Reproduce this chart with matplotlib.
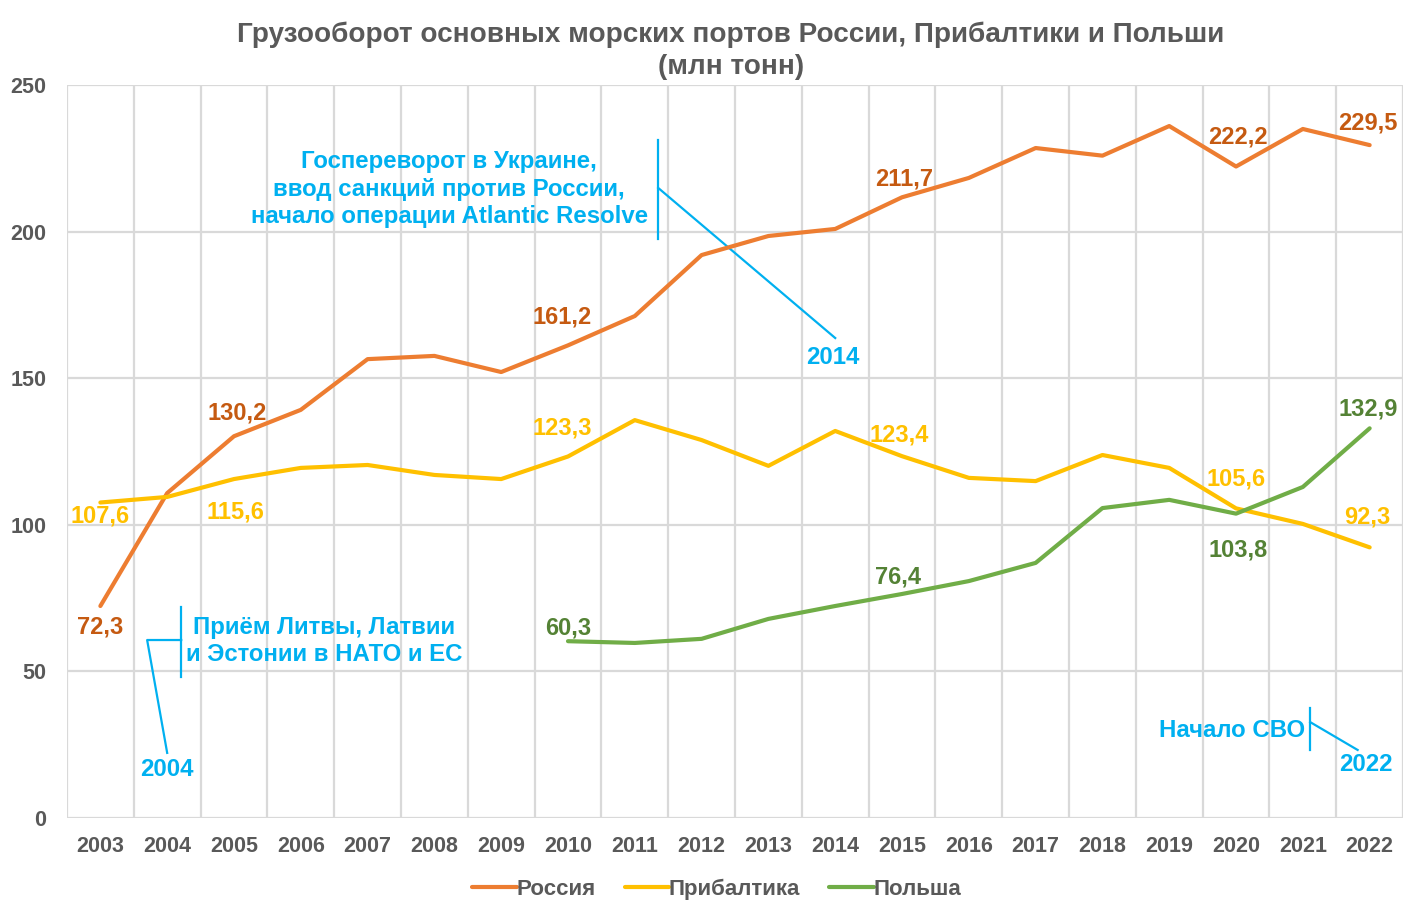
import matplotlib
matplotlib.use("Agg")
import matplotlib.pyplot as plt

plt.rcParams['font.family'] = ['Liberation Sans', 'DejaVu Sans']
plt.rcParams['font.weight'] = 'bold'

years = [str(y) for y in range(2003, 2023)]

russia = [72.3, 110.8, 130.2, 139.2, 156.5, 157.6, 152.1, 161.2, 171.2, 192.0,
          198.5, 200.9, 211.7, 218.3, 228.5, 225.9, 236.0, 222.2, 235.0, 229.5]
baltic = [107.6, 109.5, 115.6, 119.4, 120.4, 117.0, 115.6, 123.3, 135.7, 128.9,
          120.1, 132.0, 123.4, 116.0, 114.9, 123.8, 119.4, 105.6, 100.3, 92.3]
poland_years = years[7:]
poland = [60.3, 59.7, 61.1, 67.9, 72.3, 76.4, 80.8, 87.0, 105.7, 108.5,
          103.8, 112.9, 132.9]

GREY = '#595959'
BLUE = '#00B0F0'

fig = plt.figure(figsize=(14.25, 9.11), dpi=100)
ax = fig.add_axes([0.047, 0.1021, 0.9376, 0.8046])

x_all = list(range(len(years)))
x_pl = [years.index(y) for y in poland_years]

ax.plot(x_all, russia, color='#ED7D31', lw=3, label='Россия', solid_capstyle='round', zorder=3)
ax.plot(x_all, baltic, color='#FFC000', lw=3, label='Прибалтика', solid_capstyle='round', zorder=3)
ax.plot(x_pl, poland, color='#70AD47', lw=3, label='Польша', solid_capstyle='round', zorder=3)

ax.set_xlim(-0.5, len(years) - 0.5)
ax.set_ylim(0, 250)
ax.set_yticks(range(0, 251, 50))
ax.set_xticks(x_all)
ax.set_xticklabels(years)

# grid between categories like Excel
for i in range(len(years) + 1):
    ax.axvline(i - 0.5, color='#D9D9D9', lw=1.6, zorder=1)
for v in range(50, 251, 50):
    ax.axhline(v, color='#D9D9D9', lw=1.6, zorder=1)
for s in ax.spines.values():
    s.set_visible(False)
ax.axhline(0, color='#D9D9D9', lw=1.6, zorder=1)
ax.tick_params(length=0, labelsize=15.5, labelcolor=GREY)
ax.tick_params(axis='x', pad=13)
ax.tick_params(axis='y', pad=15)

# data labels: (series, year, offset in px)
x_of = {y: i for i, y in enumerate(years)}

def label(xs, ys, yr, dx, dy, color):
    i = xs.index(yr)
    ax.annotate(f"{ys[i]:.1f}".replace('.', ','), (x_of[yr], ys[i]),
                xytext=(dx, dy), textcoords='offset pixels', ha='center', va='center',
                fontsize=17, color=color, fontweight='bold', zorder=4)

ru_col = '#C55A11'
for yr, dx, dy in [('2003', 0, -21), ('2005', 3, 23), ('2010', -6, 28),
                   ('2015', 2, 18), ('2020', 2, 30), ('2022', -2, 22)]:
    label(years, russia, yr, dx, dy, ru_col)
for yr, dx, dy in [('2003', 0, -13), ('2005', 1, -33), ('2010', -6, 28),
                   ('2015', -3, 21), ('2020', 0, 29), ('2022', -2, 30)]:
    label(years, baltic, yr, dx, dy, '#FFC000')
for yr, dx, dy in [('2010', 0, 13), ('2015', -4, 17), ('2020', 2, -36), ('2022', -1, 19)]:
    label(poland_years, poland, yr, dx, dy, '#548235')

# callouts
kw = dict(color=BLUE, lw=1.6, clip_on=False, zorder=2)
tkw = dict(color=BLUE, fontsize=17.3, fontweight='bold')

ax.plot([1.21, 1.21], [48.1, 72.0], **kw)
ax.plot([1.21, 0.70, 1.00], [60.7, 60.7, 22.2], **kw)
ax.text(1.0, 16.4, '2004', ha='center', va='center', **tkw)
ax.text(3.35, 60.4, 'Приём Литвы, Латвии\nи Эстонии в НАТО и ЕС', ha='center', va='center',
        linespacing=1.2, **tkw)

ax.plot([8.35, 8.35], [197.5, 231.2], **kw)
ax.plot([8.35, 11.0], [214.9, 163.7], **kw)
ax.text(10.97, 157.2, '2014', ha='center', va='center', **tkw)
ax.text(5.22, 214.5, 'Госпереворот в Украине,\nввод санкций против России,\nначало операции Atlantic Resolve',
        ha='center', va='center', linespacing=1.25, **tkw)

ax.plot([18.11, 18.11], [23.2, 37.5], **kw)
ax.plot([18.11, 18.82], [32.7, 23.2], **kw)
ax.text(18.94, 18.1, '2022', ha='center', va='center', **tkw)
ax.text(18.04, 30.0, 'Начало СВО', ha='right', va='center', **tkw)

fig.suptitle('Грузооборот основных морских портов России, Прибалтики и Польши\n(млн тонн)',
             x=0.513, y=0.976, fontsize=20.1, color=GREY, fontweight='bold', linespacing=1.28)

fig.legend(loc='center', bbox_to_anchor=(0.503, 0.024), ncol=3, frameon=False,
           fontsize=16, handlelength=2.0, handletextpad=0.0, columnspacing=1.3,
           labelcolor=GREY)

fig.savefig('out.png', dpi=100)
